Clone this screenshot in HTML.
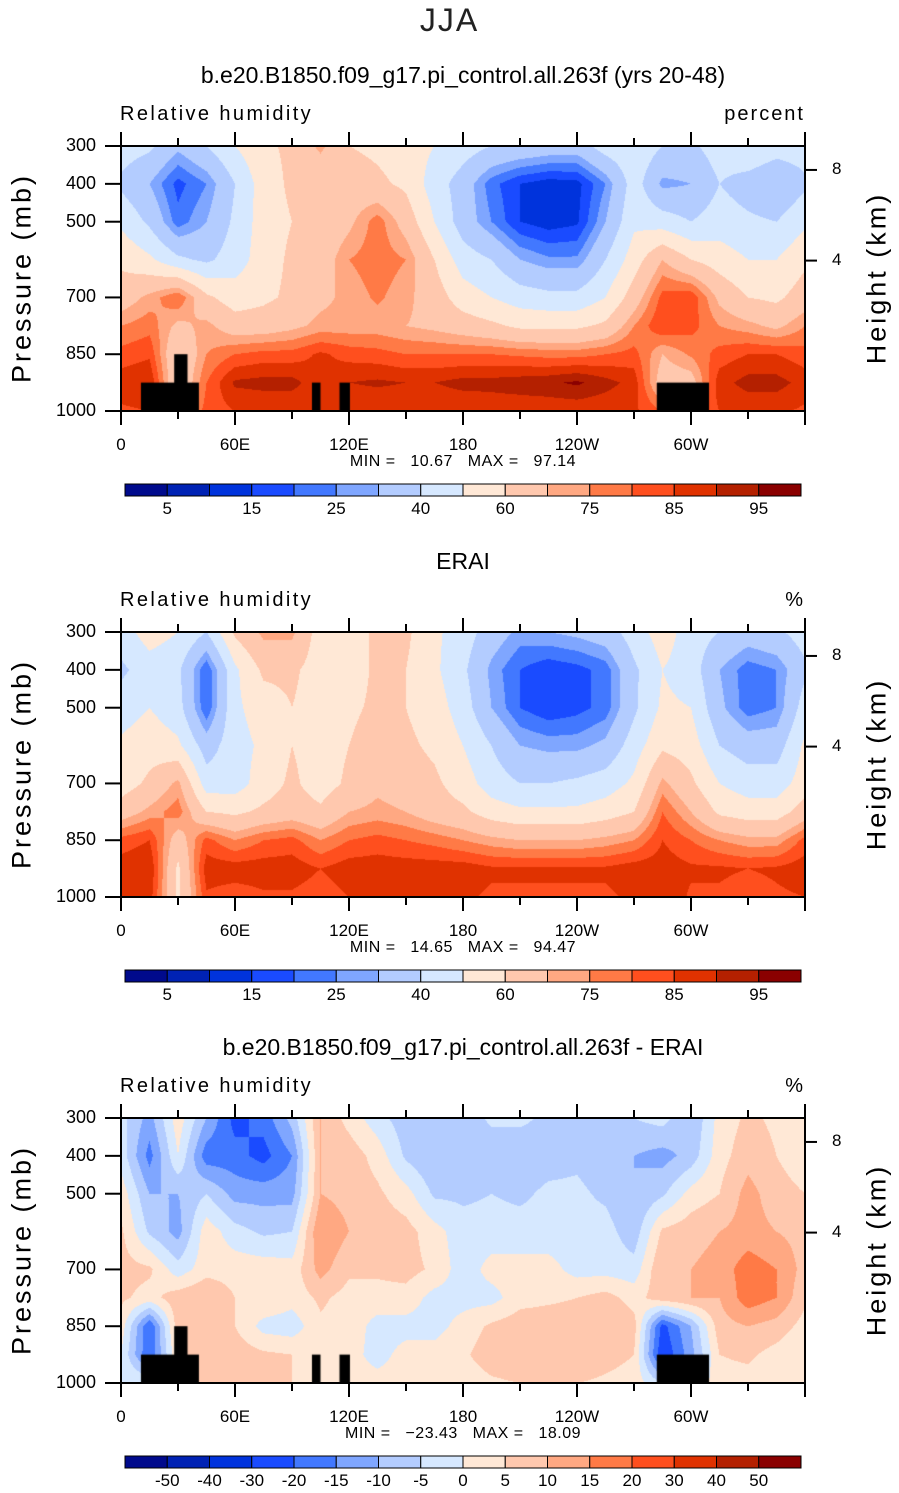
<!DOCTYPE html>
<html><head><meta charset="utf-8">
<style>
body{margin:0;background:#fff;width:899px;height:1493px;position:relative;overflow:hidden;font-family:"Liberation Sans",sans-serif;color:#000}
.t{position:absolute;white-space:nowrap}
canvas{position:absolute}
svg{position:absolute;left:0;top:0}
</style></head><body>
<div class="t" style="left:0;width:899px;text-align:center;top:2px;font-size:32px;font-weight:300;color:#222;letter-spacing:2px">JJA</div>
<div id="root"></div>
<script>
const lons=[0,15,30,45,60,75,90,105,120,135,150,165,180,195,210,225,240,255,270,285,300,315,330,345,360];
const plevs=[300,400,500,600,700,775,850,925,1000];
const modelRH=[
[45,42,32,40,50,58,62,72,60,58,55,50,45,40,38,36,35,45,48,40,38,45,50,45,45],
[38,30,18,25,40,55,62,62,65,62,58,45,35,22,15,12,13,25,45,28,30,40,35,30,38],
[48,38,22,30,42,55,60,62,68,78,66,50,35,25,15,12,14,30,48,45,40,45,42,40,48],
[58,52,42,38,45,55,62,65,75,78,75,60,45,40,30,26,26,40,55,70,60,55,50,50,58],
[65,72,80,62,55,58,62,68,72,76,72,65,55,50,45,43,43,50,65,82,84,68,60,58,65],
[75,78,68,72,65,65,68,72,72,72,70,68,65,62,58,58,58,62,75,85,82,75,72,68,75],
[82,84,60,75,80,82,82,86,83,82,80,80,80,80,79,78,78,80,82,70,76,82,85,85,82],
[88,90,60,80,91,92,92,86,90,91,90,90,92,92,93,94,96,92,88,65,66,88,92,92,88],
[84,85,70,82,85,85,85,85,85,85,85,85,85,86,86,86,86,86,86,80,80,85,86,86,84]];
const eraiRH=[
[45,55,50,40,62,72,72,55,55,62,62,52,45,35,28,30,32,35,45,55,45,40,35,38,45],
[38,45,42,20,48,62,62,55,55,62,60,52,42,28,20,16,18,22,38,50,45,30,22,25,38],
[45,50,44,20,48,55,60,55,58,62,60,55,45,30,20,16,18,22,38,52,50,32,22,25,45],
[52,56,52,35,46,52,60,55,60,65,62,58,50,40,30,28,28,32,45,58,55,40,35,35,52],
[55,62,72,45,45,55,62,55,62,68,65,62,55,45,40,40,42,45,52,72,62,50,45,45,55],
[65,72,78,60,58,62,65,62,70,72,70,65,62,55,52,52,52,55,60,80,70,58,55,55,65],
[82,85,65,82,75,80,82,75,80,82,80,78,75,72,70,70,70,72,75,85,80,75,72,72,82],
[88,90,58,88,88,88,88,85,88,88,88,88,88,86,86,86,86,86,88,88,86,86,85,86,88],
[85,88,58,84,82,84,84,82,85,85,85,85,86,84,84,84,84,84,86,90,84,84,82,84,85]];
const diffRH=[
[-3,-12,3,-10,-22,-18,-8,10,3,-3,-8,-5,-8,-4,-4,-6,-8,-6,-5,-3,-10,2,6,4,3],
[-2,-17,0,-18,-18,-22,-15,10,8,3,-6,-10,-8,-8,-8,-7,-6,-8,-10,-12,-8,3,8,5,2],
[3,-10,-10,-5,-12,-12,-12,10,8,6,2,-6,-6,-5,-6,-4,-4,-6,-10,-6,2,5,12,7,5],
[6,-6,-12,3,-3,-6,-5,15,10,8,7,2,-3,-3,-3,-3,-3,-3,-8,6,8,10,12,10,8],
[7,6,-3,3,3,3,2,12,6,6,7,4,-3,2,2,2,-2,-2,-3,10,10,12,18,15,8],
[6,3,8,10,5,5,2,6,3,3,3,-2,-2,-2,3,4,5,7,3,8,10,10,18,15,6],
[3,-20,8,8,5,-2,-3,4,3,-2,-2,-2,2,6,8,8,8,10,7,-22,-10,8,10,8,3],
[0,-20,5,5,8,6,5,3,2,-2,2,2,4,8,10,10,10,7,5,-25,-12,5,6,3,0],
[0,0,5,5,5,5,5,3,2,2,2,2,2,4,5,5,5,4,3,-5,-5,3,3,2,0]];
const topoStart=[10.5,28,100.5,115,282];
const topoEnd=[41,35,105,120.5,309.5];
const topoTop=[925,850,925,925,925];
const rhLevels=[5,10,15,20,25,30,40,50,60,70,75,80,85,90,95];
const rhLabels=["5","15","25","40","60","75","85","95"];
const diffLevels=[-50,-40,-30,-20,-15,-10,-5,0,5,10,15,20,30,40,50];
const diffLabels=["-50","-40","-30","-20","-15","-10","-5","0","5","10","15","20","30","40","50"];
const colors=["#000a8c","#0022b4","#0033dc","#1a4bff","#4278ff","#7fa6ff","#b3ccff","#d6e8ff","#ffe8d6","#ffc8ae","#ffa882","#ff7a46","#ff4f1e","#e03200","#b42000","#8a0000"];
const xTickVals=[0,60,120,180,240,300];
const xTickLabels=["0","60E","120E","180","120W","60W"];
const pTickVals=[300,400,500,700,850,1000];
const hTickVals=[8,4];

const PL=121,PW=684,PH=265;
const xOf=l=>PL+l*PW/360;
const yOf=(p,top)=>top+(p-300)/700*PH;

function hex(c){return [parseInt(c.substr(1,2),16),parseInt(c.substr(3,2),16),parseInt(c.substr(5,2),16)];}
const rgb=colors.map(hex);
function interp(grid,lon,p){
  let j=Math.min(lons.length-2,Math.floor(lon/15));let fx=(lon-lons[j])/15;
  let i=0;while(i<plevs.length-2&&p>plevs[i+1])i++;
  let fy=(p-plevs[i])/(plevs[i+1]-plevs[i]);
  const a=grid[i][j]*(1-fx)+grid[i][j+1]*fx,b=grid[i+1][j]*(1-fx)+grid[i+1][j+1]*fx;
  return a*(1-fy)+b*fy;
}
function idx(v,lev){let k=0;while(k<lev.length&&v>=lev[k])k++;return k;}

const root=document.getElementById('root');
const svgNS="http://www.w3.org/2000/svg";
const svg=document.createElementNS(svgNS,'svg');
svg.setAttribute('width','899');svg.setAttribute('height','1493');


document.body.appendChild(svg);
function line(x1,y1,x2,y2,w){const l=document.createElementNS(svgNS,'line');l.setAttribute('x1',x1);l.setAttribute('y1',y1);l.setAttribute('x2',x2);l.setAttribute('y2',y2);l.setAttribute('stroke','#000');l.setAttribute('stroke-width',w||1.5);svg.appendChild(l);return l;}
function text(str,x,y,opt){const d=document.createElement('div');d.className='t';d.textContent=str;d.style.left=x+'px';d.style.top=y+'px';d.style.fontSize=(opt.size||17)+'px';if(opt.align==='center')d.style.transform='translateX(-50%)';if(opt.align==='right')d.style.transform='translateX(-100%)';if(opt.rot){d.style.transform='translate(-50%,-50%) rotate(-90deg)';}if(opt.ls)d.style.letterSpacing=opt.ls;if(opt.weight)d.style.fontWeight=opt.weight;root.appendChild(d);return d;}

function panel(top,grid,lev,labels,title,unit,minmax,topo,pn){
  const cv=document.createElement('canvas');cv.width=PW;cv.height=PH;cv.style.left=PL+'px';cv.style.top=top+'px';
  
  
  document.body.insertBefore(cv,svg);
  const ctx=cv.getContext('2d');const im=ctx.createImageData(PW,PH);
  for(let y=0;y<PH;y++){const p=300+(y+0.5)/PH*700;for(let x=0;x<PW;x++){const lon=(x+0.5)/PW*360;const c=rgb[idx(interp(grid,lon,p),lev)];const o=(y*PW+x)*4;im.data[o]=c[0];im.data[o+1]=c[1];im.data[o+2]=c[2];im.data[o+3]=255;}}
  ctx.putImageData(im,0,0);
  if(topo){ctx.fillStyle='#000';for(let k=0;k<topoStart.length;k++){const x0=xOf(topoStart[k])-PL,x1=xOf(topoEnd[k])-PL,y0=yOf(topoTop[k],0);ctx.fillRect(x0,y0,x1-x0,PH-y0);}}
  const r=document.createElementNS(svgNS,'rect');r.setAttribute('x',PL);r.setAttribute('y',top);r.setAttribute('width',PW);r.setAttribute('height',PH);r.setAttribute('fill','none');r.setAttribute('stroke','#000');r.setAttribute('stroke-width','2');
  
  
  svg.appendChild(r);
  for(let l=0;l<=360;l+=30){const x=xOf(l);const maj=l%60===0;line(x,top+PH,x,top+PH+(maj?14:8),2);line(x,top,x,top-(maj?14:8),2);}
  xTickVals.forEach((v,k)=>{const d=text(xTickLabels[k],xOf(v),top+PH+24,{size:17,align:'center'});
    
    });
  pTickVals.forEach(v=>{const y=yOf(v,top);line(PL-16,y,PL,y,2);const d=text(String(v),96,y-11,{size:18,align:'right'});
    
    });
  hTickVals.forEach(h=>{const p=1000*Math.exp(-h/7.9);const y=yOf(p,top);line(PL+PW,y,PL+PW+12,y,2);const d=text(String(h),832,y-11,{size:17});
    
    });
  let d=text('Pressure (mb)',22,top+132,{size:27,rot:true,ls:'3px'});
  
  
  d=text('Height (km)',877,top+132,{size:27,rot:true,ls:'3px'});
  
  
  d=text(title,463,top-84,{size:23,align:'center'});
  
  
  d=text('Relative humidity',120,top-43,{size:20,ls:'2.4px'});
  
  
  d=text(unit,805,top-43,{size:20,align:'right',ls:'2px'});
  
  
  d=text('MIN =   '+minmax[0]+'   MAX =   '+minmax[1],463,top+307,{size:16,align:'center',ls:'0.5px'});
  d.style.whiteSpace='pre';
  
  
  const cbT=top+338,cbL=125,bw=676/16;
  for(let k=0;k<16;k++){const b=document.createElementNS(svgNS,'rect');b.setAttribute('x',cbL+k*bw);b.setAttribute('y',cbT);b.setAttribute('width',bw);b.setAttribute('height',12);b.setAttribute('fill',colors[k]);b.setAttribute('stroke','#000');b.setAttribute('stroke-width','1');
    
    
    svg.appendChild(b);}
  const step=labels.length===8?2:1;
  labels.forEach((s,k)=>{const x=cbL+bw*(1+k*step);const t=text(s,x,cbT+15,{size:17,align:'center'});
    
    });
}
panel(146,modelRH,rhLevels,rhLabels,'b.e20.B1850.f09_g17.pi_control.all.263f (yrs 20-48)','percent',['10.67','97.14'],true,'model');
panel(632,eraiRH,rhLevels,rhLabels,'ERAI','%',['14.65','94.47'],false,'erai');
panel(1118,diffRH,diffLevels,diffLabels,'b.e20.B1850.f09_g17.pi_control.all.263f - ERAI','%',['\u221223.43','18.09'],true,'difference');
</script>
</body></html>
